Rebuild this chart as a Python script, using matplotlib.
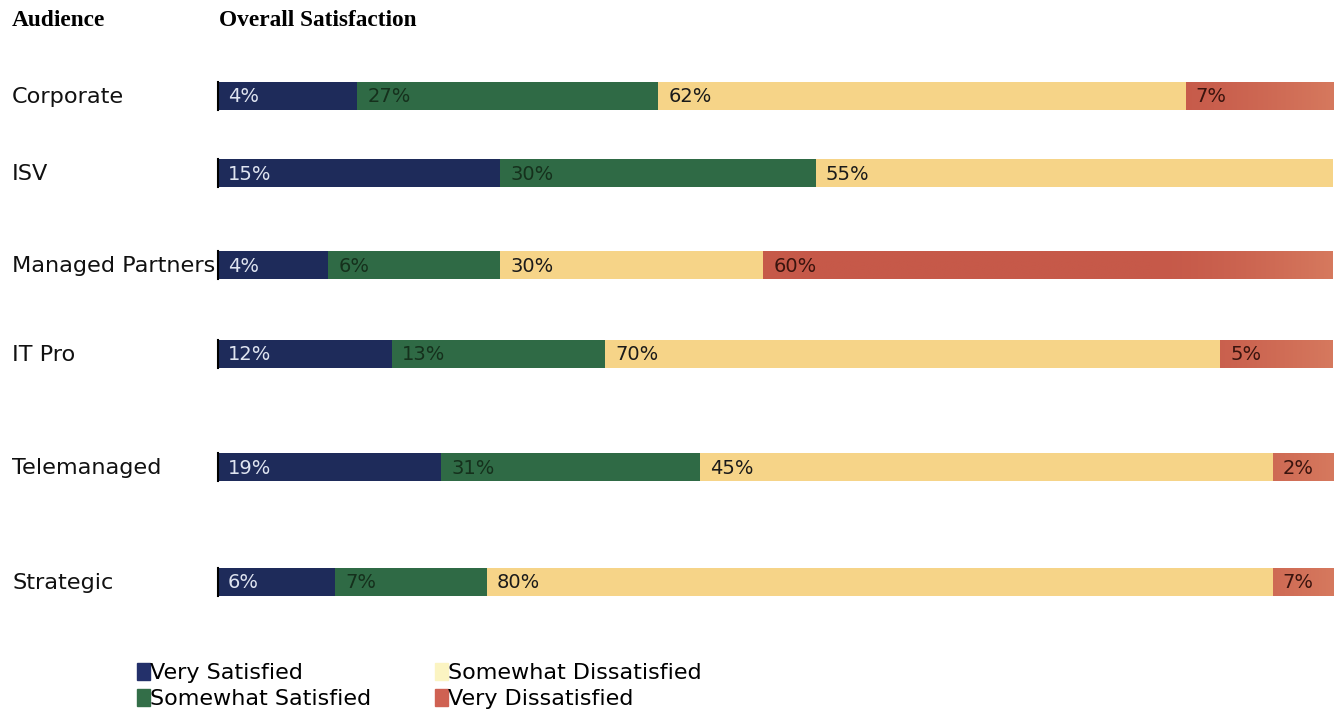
import numpy as np
import matplotlib.pyplot as plt
from matplotlib.patches import Rectangle
from matplotlib.colors import to_rgb

# audiences, top to bottom
audiences = ["Corporate", "ISV", "Managed Partners", "IT Pro", "Telemanaged", "Strategic"]
categories = ["Very Satisfied", "Somewhat Satisfied", "Somewhat Dissatisfied", "Very Dissatisfied"]

# printed labels on each segment
label_vs = [4, 15, 4, 12, 19, 6]
label_ss = [27, 30, 6, 13, 31, 7]
label_sd = [62, 55, 30, 70, 45, 80]
label_vd = [7, None, 60, 5, 2, 7]

# segment lengths as drawn in the picture (share of bar, %)
width_vs = [12.5, 25.3, 9.9, 15.6, 20.0, 10.5]
width_ss = [27.0, 28.3, 15.4, 19.1, 23.2, 13.6]
width_sd = [47.3, 46.4, 23.6, 55.2, 51.4, 70.5]
width_vd = [13.2, 0.0, 51.1, 10.1, 5.4, 5.4]

# vertical placement of each row (pixels from top), rows are unevenly spaced
row_y = [96, 173, 265, 354, 467, 582]

colors = ["#1e2b5a", "#2f6a45", "#f6d488", "#c65949"]
legend_colors = ["#23306a", "#336e48", "#fbf4c2", "#cf6152"]
text_colors = ["#dfe4f0", "#15301c", "#1a1a1a", "#3a140e"]

W, H = 1343, 716
fig = plt.figure(figsize=(W / 100, H / 100), dpi=100)
ax = fig.add_axes([218 / W, 0, 1115 / W, 1])
ax.set_xlim(0, 100)
ax.set_ylim(H, 0)
ax.axis("off")

widths = [width_vs, width_ss, width_sd, width_vd]
labels = [label_vs, label_ss, label_sd, label_vd]
bar_h = 28

left = np.zeros(len(audiences))
for k in range(4):
    w = np.array(widths[k])
    if k < 3:
        ax.barh(row_y, w, left=left, height=bar_h, color=colors[k], linewidth=0)
    else:
        # red segment fades a little lighter toward the right end of the bar
        c0 = np.array(to_rgb(colors[3]))
        c1 = np.array(to_rgb("#d6795e"))
        for i in range(len(audiences)):
            if w[i] <= 0:
                continue
            xs = np.linspace(left[i], left[i] + w[i], 200)
            t = np.clip((xs - 84) / 16, 0, 1) ** 1.5
            img = (c0[None, :] * (1 - t[:, None]) + c1[None, :] * t[:, None])[None, :, :]
            ax.imshow(img, extent=(left[i], left[i] + w[i], row_y[i] + bar_h / 2, row_y[i] - bar_h / 2),
                      aspect="auto", interpolation="bilinear", zorder=2)
    for i in range(len(audiences)):
        if labels[k][i] is not None and w[i] > 0:
            ax.text(left[i] + 0.9, row_y[i] + 1, f"{labels[k][i]}%", color=text_colors[k],
                    fontsize=14, va="center", ha="left", zorder=3)
    left += w

ax.set_xlim(0, 100)
ax.set_ylim(H, 0)

# thin black tick at the start of each bar
for y in row_y:
    ax.plot([0, 0], [y - bar_h / 2, y + bar_h / 2], color="black", linewidth=1.5, zorder=4, clip_on=False)

# audience names
for name, y in zip(audiences, row_y):
    fig.text(12 / W, 1 - (y + 1) / H, name, fontsize=16.1, va="center", ha="left", color="#111111")

fig.text(12 / W, 1 - 20 / H, "Audience", fontsize=16.8, fontweight="bold",
         family="Liberation Serif", va="center", ha="left")
fig.text(219 / W, 1 - 20 / H, "Overall Satisfaction", fontsize=16.8, fontweight="bold",
         family="Liberation Serif", va="center", ha="left")

handles = [Rectangle((0, 0), 1, 1, color=c) for c in legend_colors]
fig.legend(handles, categories, ncol=2, loc="upper left", bbox_to_anchor=(137 / W, 1 - 663 / H),
           frameon=False, fontsize=16, handlelength=0.6, handleheight=0.8,
           handletextpad=0.0, columnspacing=2.85, labelspacing=0.25, borderpad=0.0,
           borderaxespad=0.0)

fig.savefig("out.png", dpi=100)
